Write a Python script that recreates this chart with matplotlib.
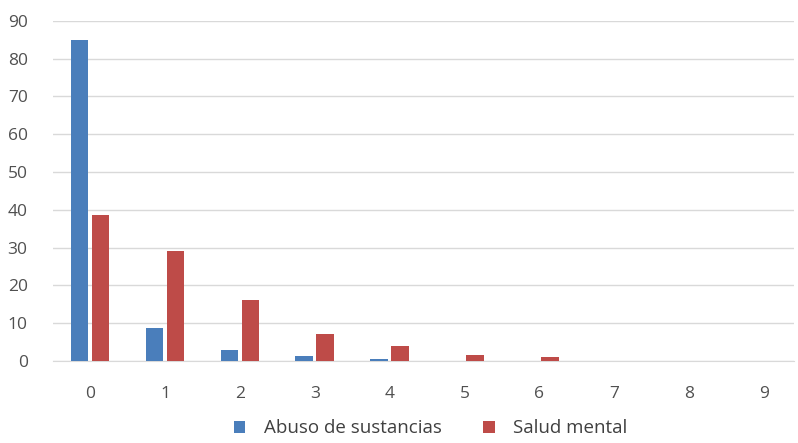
import numpy as np
import matplotlib.pyplot as plt

plt.rcParams['font.family'] = ['Open Sans', 'DejaVu Sans']

categorias = ['0', '1', '2', '3', '4', '5', '6', '7', '8', '9']
abuso = [85, 8.7, 2.9, 1.4, 0.6, 0, 0, 0, 0, 0]
salud = [38.7, 29.2, 16.2, 7.2, 3.9, 1.5, 1.1, 0, 0, 0]

azul = '#4a7ebb'
rojo = '#be4b48'

fig = plt.figure(figsize=(7.98, 4.43), dpi=100)
ax = fig.add_axes([0.066, 0.185, 0.929, 0.768])

x = np.arange(len(categorias))
w = 0.235
ax.bar(x - 0.14, abuso, w, color=azul, label='Abuso de sustancias', zorder=3)
ax.bar(x + 0.14, salud, w, color=rojo, label='Salud mental', zorder=3)

ax.set_ylim(0, 90)
ax.set_yticks(range(0, 91, 10))
ax.set_xlim(-0.5, 9.4)
ax.set_xticks(x)
ax.set_xticklabels(categorias)
ax.grid(axis='y', color='#d9d9d9', linewidth=1, zorder=0)
for s in ['top', 'right', 'left']:
    ax.spines[s].set_visible(False)
ax.spines['bottom'].set_color('#d9d9d9')
ax.tick_params(length=0, colors='#505050', labelsize=12.5)
ax.tick_params(axis='x', pad=18)
ax.tick_params(axis='y', pad=18)

fig.legend(loc='lower center', ncol=2, frameon=False, fontsize=13.5,
           handlelength=0.6, handleheight=0.6, columnspacing=2.2,
           handletextpad=1.0,
           bbox_to_anchor=(0.54, -0.025), labelcolor='#404040')

fig.savefig('out.png', dpi=100)
